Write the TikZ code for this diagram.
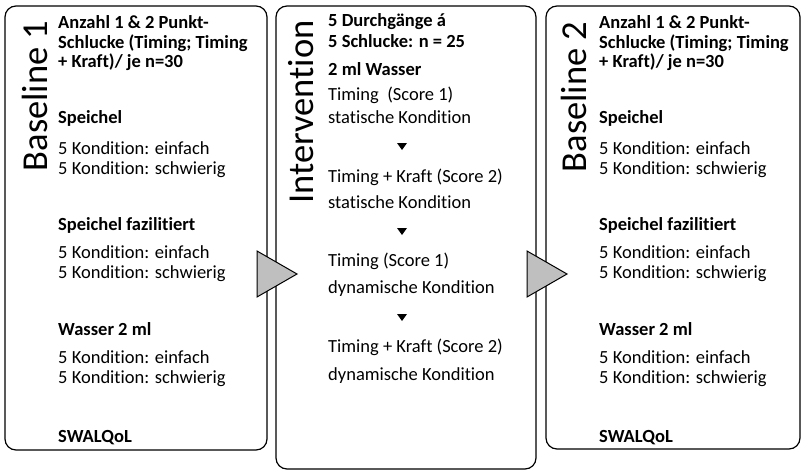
\documentclass[tikz,border=0pt]{standalone}
\usepackage{fontspec}
\setmainfont[Ligatures=NoCommon]{Carlito}
\definecolor{arrowgray}{RGB}{191,191,191}
\begin{document}
\begin{tikzpicture}[x=1pt,y=-1pt,
  panel/.style={draw=black, line width=1.2pt, rounded corners=11pt, fill=white},
  txt/.style={anchor=base west, inner sep=0pt, font=\fontsize{18.5}{20}\selectfont},
  btxt/.style={txt, font=\fontsize{18.5}{20}\selectfont\bfseries},
  vtitle/.style={rotate=90, anchor=base, inner sep=0pt, font=\fontsize{36.5}{40}\selectfont},
  bigarrow/.style={draw=black, line width=1pt, fill=arrowgray, line join=miter},
  smallarrow/.style={fill=black}]
\useasboundingbox (0,0) rectangle (804,471);
% panels
\draw[panel] (5,6) rectangle (267,450);
\draw[panel] (276,6) rectangle (536,469);
\draw[panel] (546,6) rectangle (800,449);
% connector triangles
\draw[bigarrow] (257,251) -- (297,274) -- (257,297) -- cycle;
\draw[bigarrow] (527,251) -- (567,274) -- (527,297) -- cycle;
% titles
\node[vtitle] (t1) at (47,96) {Baseline 1};
\node[vtitle] (t2) at (313,112) {Intervention};
\node[vtitle] (t3) at (586,97) {Baseline 2};
% Baseline 1
\node[btxt] (a1) at (58,28) {Anzahl 1 \& 2 Punkt-};
\node[btxt] (a1b) at (58,48) {Schlucke (Timing; Timing};
\node[btxt] (a1c) at (58,67) {+ Kraft)/ je n=30};
\node[btxt] (a2) at (58,123) {Speichel};
\node[txt] (a3) at (58,154) {5 Kondition: einfach};
\node[txt] (a3b) at (58,174) {5 Kondition: schwierig};
\node[btxt] (a4) at (58,230) {Speichel fazilitiert};
\node[txt] (a5) at (58,258) {5 Kondition: einfach};
\node[txt] (a5b) at (58,278) {5 Kondition: schwierig};
\node[btxt] (a6) at (58,335) {Wasser 2 ml};
\node[txt] (a7) at (58,363) {5 Kondition: einfach};
\node[txt] (a7b) at (58,383) {5 Kondition: schwierig};
\node[btxt] (a8) at (58,442) {SWALQoL};
% Intervention
\node[btxt] (i1) at (328,26) {5 Durchgänge á};
\node[btxt] (i2) at (328,47) {5 Schlucke: n = 25};
\node[btxt] (i3) at (328,75) {2 ml Wasser};
\node[txt] (i4) at (328,100) {Timing~~(Score 1)};
\node[txt] (i5) at (328,123) {statische Kondition};
\node[txt] (i6) at (328,182) {Timing + Kraft (Score 2)};
\node[txt] (i7) at (328,208) {statische Kondition};
\node[txt] (i8) at (328,266) {Timing (Score 1)};
\node[txt] (i9) at (328,293) {dynamische Kondition};
\node[txt] (i10) at (328,352) {Timing + Kraft (Score 2)};
\node[txt] (i11) at (328,380) {dynamische Kondition};
\fill[smallarrow] (397,143) -- (407,143) -- (402,150) -- cycle;
\fill[smallarrow] (397,228) -- (407,228) -- (402,235) -- cycle;
\fill[smallarrow] (397,314) -- (407,314) -- (402,321) -- cycle;
% Baseline 2
\node[btxt] (c1) at (599,28) {Anzahl 1 \& 2 Punkt-};
\node[btxt] (c1b) at (599,48) {Schlucke (Timing; Timing};
\node[btxt] (c1c) at (599,67) {+ Kraft)/ je n=30};
\node[btxt] (c2) at (599,123) {Speichel};
\node[txt] (c3) at (599,154) {5 Kondition: einfach};
\node[txt] (c3b) at (599,174) {5 Kondition: schwierig};
\node[btxt] (c4) at (599,230) {Speichel fazilitiert};
\node[txt] (c5) at (599,258) {5 Kondition: einfach};
\node[txt] (c5b) at (599,278) {5 Kondition: schwierig};
\node[btxt] (c6) at (599,335) {Wasser 2 ml};
\node[txt] (c7) at (599,363) {5 Kondition: einfach};
\node[txt] (c7b) at (599,383) {5 Kondition: schwierig};
\node[btxt] (c8) at (599,442) {SWALQoL};
\end{tikzpicture}
\end{document}
